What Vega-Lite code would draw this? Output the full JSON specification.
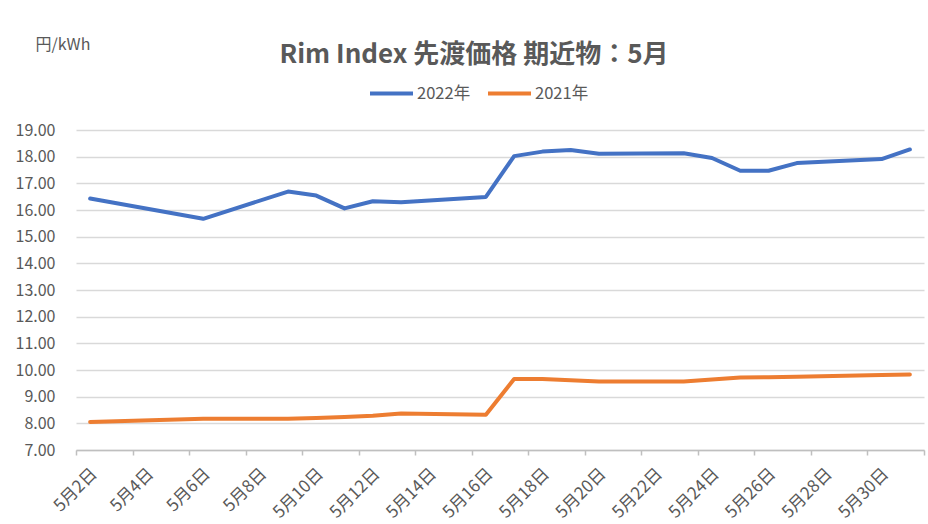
{
  "$schema": "https://vega.github.io/schema/vega-lite/v6.json",
  "autosize": {"type": "none"},
  "padding": {"left": 76, "top": 130, "right": 4, "bottom": 74},
  "width": 848,
  "height": 320,
  "background": "white",
  "title": {
    "text": "Rim Index 先渡価格 期近物：5月",
    "fontSize": 26,
    "fontWeight": "bold",
    "color": "#595959",
    "font": "Noto Sans CJK JP",
    "anchor": "middle",
    "frame": "group",
    "dx": -26,
    "offset": -32
  },
  "config": {
    "font": "Noto Sans CJK JP",
    "view": {"stroke": null}
  },
  "data": {
    "values": [
      {"day": 2, "price": 16.43, "year": "2022年"},
      {"day": 6, "price": 15.67, "year": "2022年"},
      {"day": 9, "price": 16.69, "year": "2022年"},
      {"day": 10, "price": 16.54, "year": "2022年"},
      {"day": 11, "price": 16.06, "year": "2022年"},
      {"day": 12, "price": 16.33, "year": "2022年"},
      {"day": 13, "price": 16.29, "year": "2022年"},
      {"day": 16, "price": 16.49, "year": "2022年"},
      {"day": 17, "price": 18.02, "year": "2022年"},
      {"day": 18, "price": 18.19, "year": "2022年"},
      {"day": 19, "price": 18.25, "year": "2022年"},
      {"day": 20, "price": 18.11, "year": "2022年"},
      {"day": 23, "price": 18.13, "year": "2022年"},
      {"day": 24, "price": 17.95, "year": "2022年"},
      {"day": 25, "price": 17.47, "year": "2022年"},
      {"day": 26, "price": 17.47, "year": "2022年"},
      {"day": 27, "price": 17.76, "year": "2022年"},
      {"day": 30, "price": 17.91, "year": "2022年"},
      {"day": 31, "price": 18.27, "year": "2022年"},
      {"day": 2, "price": 8.05, "year": "2021年"},
      {"day": 6, "price": 8.17, "year": "2021年"},
      {"day": 9, "price": 8.17, "year": "2021年"},
      {"day": 10, "price": 8.2, "year": "2021年"},
      {"day": 11, "price": 8.24, "year": "2021年"},
      {"day": 12, "price": 8.28, "year": "2021年"},
      {"day": 13, "price": 8.37, "year": "2021年"},
      {"day": 16, "price": 8.32, "year": "2021年"},
      {"day": 17, "price": 9.66, "year": "2021年"},
      {"day": 18, "price": 9.66, "year": "2021年"},
      {"day": 20, "price": 9.57, "year": "2021年"},
      {"day": 23, "price": 9.57, "year": "2021年"},
      {"day": 25, "price": 9.72, "year": "2021年"},
      {"day": 26, "price": 9.73, "year": "2021年"},
      {"day": 27, "price": 9.75, "year": "2021年"},
      {"day": 30, "price": 9.81, "year": "2021年"},
      {"day": 31, "price": 9.83, "year": "2021年"}
    ]
  },
  "mark": {"type": "line", "strokeWidth": 4, "strokeJoin": "round", "strokeCap": "round"},
  "encoding": {
    "x": {
      "field": "day",
      "type": "quantitative",
      "scale": {"domain": [1.5, 31.5], "nice": false, "zero": false},
      "axis": {
        "title": null,
        "values": [1.5, 3.5, 5.5, 7.5, 9.5, 11.5, 13.5, 15.5, 17.5, 19.5, 21.5, 23.5, 25.5, 27.5, 29.5, 31.5],
        "labelExpr": "datum.value < 31 ? '5月' + (datum.value + 0.5) + '日' : ''",
        "labelAngle": -45,
        "labelAlign": "right",
        "labelBaseline": "middle",
        "labelOffset": 18,
        "labelPadding": 16,
        "labelFontSize": 17,
        "labelColor": "#595959",
        "labelFont": "Noto Sans CJK JP",
        "labelOverlap": false,
        "grid": false,
        "domainColor": "#bfbfbf",
        "domainWidth": 1.5,
        "tickColor": "#bfbfbf",
        "tickWidth": 1.5,
        "tickSize": 5
      }
    },
    "y": {
      "field": "price",
      "type": "quantitative",
      "scale": {"domain": [7, 19], "nice": false, "zero": false},
      "axis": {
        "title": "円/kWh",
        "titleAngle": 0,
        "titleAlign": "left",
        "titleBaseline": "middle",
        "titleX": -41,
        "titleY": -86,
        "titleFontSize": 16,
        "titleFontWeight": "normal",
        "titleColor": "#595959",
        "titleFont": "Noto Sans CJK JP",
        "values": [7, 8, 9, 10, 11, 12, 13, 14, 15, 16, 17, 18, 19],
        "format": ".2f",
        "labelFontSize": 16,
        "labelColor": "#595959",
        "labelFont": "Noto Sans CJK JP",
        "labelPadding": 21,
        "ticks": false,
        "domain": false,
        "gridColor": "#d9d9d9",
        "gridWidth": 1.5
      }
    },
    "color": {
      "field": "year",
      "type": "nominal",
      "scale": {"domain": ["2022年", "2021年"], "range": ["#4472C4", "#ED7D31"]},
      "legend": {
        "title": null,
        "orient": "none",
        "direction": "horizontal",
        "legendX": 292,
        "legendY": -60,
        "symbolType": "stroke",
        "symbolSize": 1849,
        "symbolStrokeWidth": 4,
        "labelFontSize": 16.5,
        "labelColor": "#595959",
        "labelFont": "Noto Sans CJK JP",
        "labelOffset": 2,
        "columnPadding": 9
      }
    }
  }
}
